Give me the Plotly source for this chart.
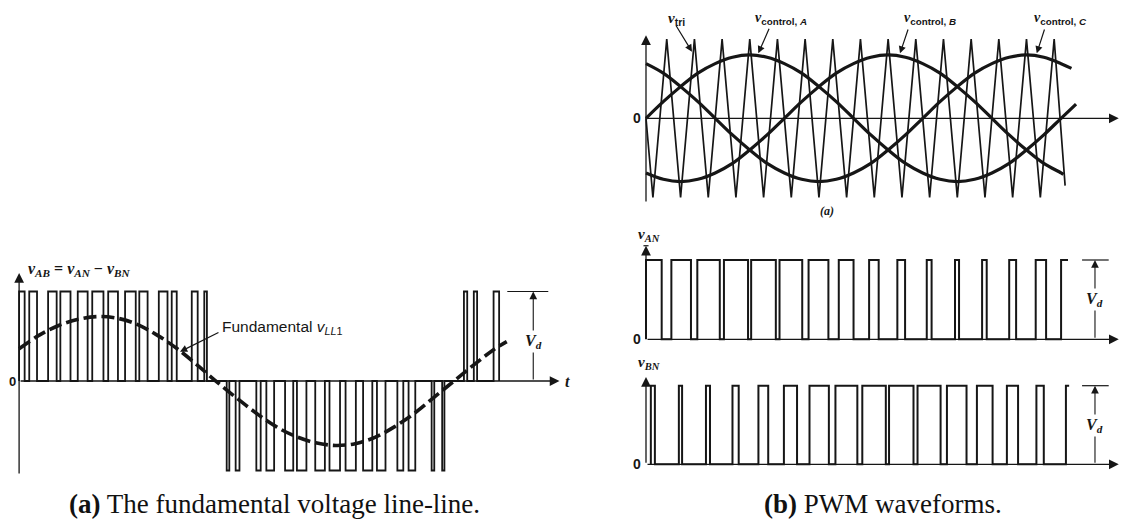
import plotly.graph_objects as go

W, H = 1131, 521          # target picture size
OFF = 8                   # page body margin of the written html
Wf, Hf = W - OFF, H - OFF  # figure size so that figure fills the window
INK = "#161616"

# ---------------- data (time in degrees of the fundamental, values per-unit) ----------------
# triangular carrier (vertices)
tri_t = [0, 6, 18, 30, 42, 54, 66, 78, 90, 102, 114, 126, 138, 150, 162, 174, 186,
         198, 210, 222, 234, 246, 258, 270, 282, 294, 306, 318, 330, 342, 354, 363.5]
tri_v = [0, -1, 1, -1, 1, -1, 1, -1, 1, -1, 1, -1, 1, -1, 1, -1, 1,
         -1, 1, -1, 1, -1, 1, -1, 1, -1, 1, -1, 1, -1, 1, -0.85]

# control voltages, read every 15 degrees
ctrl_t = [0, 15, 30, 45, 60, 75, 90, 105, 120, 135, 150, 165, 180, 195, 210, 225,
          240, 255, 270, 285, 300, 315, 330, 345, 360]
ctrl_a = [0.0, 0.21, 0.40, 0.57, 0.69, 0.77, 0.80, 0.77, 0.69, 0.57, 0.40, 0.21, 0.0,
          -0.21, -0.40, -0.57, -0.69, -0.77, -0.80, -0.77, -0.69, -0.57, -0.40, -0.21, 0.0]
ctrl_b = [-0.69, -0.77, -0.80, -0.77, -0.69, -0.57, -0.40, -0.21, 0.0, 0.21, 0.40, 0.57,
          0.69, 0.77, 0.80, 0.77, 0.69, 0.57, 0.40, 0.21, 0.0, -0.21, -0.40, -0.57, -0.69]
ctrl_c = [0.69, 0.57, 0.40, 0.21, 0.0, -0.21, -0.40, -0.57, -0.69, -0.77, -0.80, -0.77,
          -0.69, -0.57, -0.40, -0.21, 0.0, 0.21, 0.40, 0.57, 0.69, 0.77, 0.80, 0.77, 0.69]
ctrl_end_t = {"A": 373, "B": 362, "C": 369}
ctrl_end_v = {"A": 0.18, "B": -0.71, "C": 0.63}

# phase-leg voltages: pulse rise / fall instants
an_rise = [0, 22, 44.5, 67.6, 91.2, 115.8, 141, 167.2, 193.5, 218, 243.5, 268, 291.5, 315, 338, 360]
an_fall = [13.6, 39, 64, 88.5, 112.6, 135.5, 158.2, 180, 201.8, 224.7, 247.7, 271.5, 295.5, 321, 347, 366]
bn_rise = [4.2, 28.5, 52, 75, 97.5, 119.6, 141.8, 164.3, 187.6, 210.8, 235.5, 261, 287, 313, 338.6, 364.2]
bn_fall = [7.7, 31.3, 55.5, 80.4, 106, 131, 158.6, 183.3, 208, 232, 255.5, 278, 300.6, 322.7, 345, 367]

# line-line voltage v_AB pulses
ab_start = [0, 7.7, 22, 31.3, 44.5, 55.5, 67.6, 80.4, 91.2, 106, 115.8, 131, 140.5,
            157.5, 164.3, 180, 187.6, 201.8, 210.8, 224.7, 235.5, 247.7, 261, 271.5, 287, 295.5, 313, 321,
            337.5, 345, 360]
ab_end = [4.2, 13.6, 28.5, 39, 52, 64, 75, 88.5, 97.5, 112.6, 119.6, 135.5, 142.5,
          159.5, 167.2, 183.3, 193.5, 208, 218, 232, 243.5, 255.5, 268, 278, 291.5, 300.6, 315, 322.7,
          340, 347.5, 364.2]
ab_level = [1] * 13 + [-1] * 15 + [1] * 3

# fundamental of v_AB (dashed)
fund_t = [0, 15, 30, 45, 60, 75, 90, 105, 120, 135, 150, 165, 180, 195, 210, 225, 240,
          255, 270, 285, 300, 315, 330, 345, 360, 370]
fund_v = [0.36, 0.51, 0.62, 0.69, 0.72, 0.70, 0.63, 0.51, 0.36, 0.18, -0.01, -0.19, -0.36,
          -0.51, -0.62, -0.69, -0.72, -0.70, -0.63, -0.51, -0.36, -0.18, 0.0, 0.18, 0.35, 0.44]

# ---------------- panel geometry (window pixels: px = a + b*t, py = c - d*v) ----------------
panels = {
    "L":  dict(ax="x",  ay="y",  a=19.1, b=1.318, c=381.0, d=89.5, px=(OFF, 600),  py=(250, 490)),
    "TR": dict(ax="x2", ay="y2", a=646.0, b=1.153, c=118.3, d=79.2, px=(600, W), py=(OFF, 232)),
    "AN": dict(ax="x3", ay="y3", a=646.0, b=1.153, c=339.3, d=79.3, px=(600, W), py=(228, 350)),
    "BN": dict(ax="x4", ay="y4", a=646.0, b=1.153, c=464.3, d=78.6, px=(600, W), py=(352, 480)),
}

fig = go.Figure()


def pulse_xy(starts, ends, levels, open_end=False):
    xs, ys = [], []
    for s, e, l in zip(starts, ends, levels):
        xs += [s, s, e, e]
        ys += [0, l, l, 0]
    if open_end:
        xs, ys = xs[:-1], ys[:-1]
    return xs, ys


def add_line(p, x, y, width, dash=None, shape="linear"):
    fig.add_trace(go.Scatter(x=x, y=y, mode="lines", xaxis=panels[p]["ax"], yaxis=panels[p]["ay"],
                             line=dict(color=INK, width=width, dash=dash, shape=shape),
                             hoverinfo="skip", showlegend=False))


# left panel: v_AB and fundamental
x, y = pulse_xy(ab_start, ab_end, ab_level)
add_line("L", x, y, 1.8)
add_line("L", fund_t, fund_v, 3.6, dash="13px,5px", shape="spline")

# top right: carrier and controls
add_line("TR", tri_t, tri_v, 1.7)
add_line("TR", ctrl_t + [ctrl_end_t["A"]], ctrl_a + [ctrl_end_v["A"]], 3.2, shape="spline")
add_line("TR", ctrl_t + [ctrl_end_t["B"]], ctrl_b + [ctrl_end_v["B"]], 3.2, shape="spline")
add_line("TR", ctrl_t + [ctrl_end_t["C"]], ctrl_c + [ctrl_end_v["C"]], 3.2, shape="spline")

# v_AN and v_BN
x, y = pulse_xy(an_rise, an_fall, [1] * len(an_rise), open_end=True)
add_line("AN", x, y, 2.0)
x, y = pulse_xy(bn_rise, bn_fall, [1] * len(bn_rise), open_end=True)
add_line("BN", x, y, 2.0)

layout = dict(width=Wf, height=Hf, margin=dict(l=0, r=0, t=0, b=0, pad=0),
              paper_bgcolor="white", plot_bgcolor="rgba(0,0,0,0)", showlegend=False)
for k, p in panels.items():
    xn = "xaxis" + p["ax"][1:]
    yn = "yaxis" + p["ay"][1:]
    x0, x1 = p["px"]
    top, bot = p["py"]
    layout[xn] = dict(domain=[(x0 - OFF) / Wf, (x1 - OFF) / Wf],
                      range=[(x0 - p["a"]) / p["b"], (x1 - p["a"]) / p["b"]],
                      visible=False, fixedrange=True)
    layout[yn] = dict(domain=[1 - (bot - OFF) / Hf, 1 - (top - OFF) / Hf],
                      range=[(p["c"] - bot) / p["d"], (p["c"] - top) / p["d"]],
                      visible=False, fixedrange=True)
fig.update_layout(**layout)

anns = []
shapes = []


def arrow(p, tail, head, w=1.3, size=1.5):
    r = panels[p]
    anns.append(dict(x=head[0], y=head[1], ax=tail[0], ay=tail[1], xref=r["ax"], yref=r["ay"],
                     axref=r["ax"], ayref=r["ay"], text="", showarrow=True, arrowhead=2,
                     arrowsize=size, arrowwidth=w, arrowcolor=INK))


def text(p, x, y, s, size=13, family="Liberation Serif", xanchor="center", bg=None, yanchor="middle"):
    r = panels[p]
    d = dict(x=x, y=y, xref=r["ax"], yref=r["ay"], text=s, showarrow=False, xanchor=xanchor,
             yanchor=yanchor, font=dict(family=family, size=size, color=INK))
    if bg:
        d["bgcolor"] = bg
        d["borderpad"] = 1
    anns.append(d)


def seg(p, x0, y0, x1, y1, w=1.3):
    r = panels[p]
    shapes.append(dict(type="line", x0=x0, y0=y0, x1=x1, y1=y1, xref=r["ax"], yref=r["ay"],
                       line=dict(color=INK, width=w)))


def vd(p, t_lo, t_hi, t_mid, v_text):
    seg(p, t_lo, 1, t_hi, 1, 1.2)
    arrow(p, (t_mid, 0), (t_mid, 1), 1.1, 1.4)
    text(p, t_mid, v_text, "<b><i>V</i><sub><i>d</i></sub></b>", size=16, bg="white")


SANS = "Liberation Sans"

# ---- left panel decorations ----
arrow("L", (0, -1.05), (0, 1.207))
arrow("L", (0, 0), (410, 0))
text("L", -1.2, 0, "<b>0</b>", 13, SANS, "right")
text("L", 413, 0, "<b><i>t</i></b>", 16, xanchor="left")
text("L", 5.0, 1.245, "<b><i>v</i><sub><i>AB</i></sub> = <i>v</i><sub><i>AN</i></sub> − <i>v</i><sub><i>BN</i></sub></b>",
     16, xanchor="left")
text("L", 152.6, 0.598, "Fundamental <i>v</i><sub><i>LL</i>1</sub>", 15.5, SANS, "left")
arrow("L", (152.4, 0.551), (122.1, 0.327), 1.2, 1.2)
vd("L", 370.4, 401.5, 390.1, 0.44)

# ---- top right decorations ----
arrow("TR", (0, -1.07), (0, 1.05))
arrow("TR", (0, 0), (410, 0))
text("TR", -2.6, 0, "<b>0</b>", 14, SANS, "right")
text("TR", 412.5, 0, "<b><i>t</i></b>", 15, xanchor="left")
sub = "<span style='font-family:Liberation Sans'>%s</span>"
# labels placed with their top edge at the top of the figure
top_v = (panels["TR"]["c"] - OFF) / panels["TR"]["d"]
text("TR", 26.5, top_v, "<b><i>v</i><sub>" + (sub % "tri") + "</sub></b>", 15, yanchor="top")
arrow("TR", (25.2, 1.19), (39.9, 0.84), 1.2, 1.2)
text("TR", 117.1, top_v, "<b><i>v</i><sub>" + (sub % "control, <i>A</i>") + "</sub></b>", 14, yanchor="top")
arrow("TR", (107.3, 1.15), (97.4, 0.82), 1.2, 1.2)
text("TR", 246.7, top_v, "<b><i>v</i><sub>" + (sub % "control, <i>B</i>") + "</sub></b>", 14, yanchor="top")
arrow("TR", (227.7, 1.14), (220.3, 0.82), 1.2, 1.2)
text("TR", 359.5, top_v, "<b><i>v</i><sub>" + (sub % "control, <i>C</i>") + "</sub></b>", 14, yanchor="top")
arrow("TR", (346.0, 1.14), (338.9, 0.82), 1.2, 1.2)
text("TR", 156.8, -1.17, "<b><i>(a)</i></b>", 12)

# ---- v_AN, v_BN decorations ----
for p, tip, lab, lv in (("AN", 1.18, "AN", 1.315), ("BN", 1.11, "BN", 1.29)):
    arrow(p, (0, 0), (0, tip))
    arrow(p, (0, 0), (410, 0))
    text(p, -2.6, 0, "<b>0</b>", 14, SANS, "right")
    text(p, 412.5, 0, "<b><i>t</i></b>", 15, xanchor="left")
    text(p, -9.0, lv, "<b><i>v</i><sub><i>%s</i></sub></b>" % lab, 15, xanchor="left")
    vd(p, 378.2, 401.3, 389.4, 0.5)
seg("AN", -2.2, 1.18, 2.2, 1.18, 1.2)

# ---- captions ----
def px(x):
    return (x - OFF) / Wf


def py(y):
    return 1 - (y - OFF) / Hf


anns.append(dict(x=px(274), y=py(504), xref="paper", yref="paper", xanchor="center", yanchor="middle",
                 showarrow=False, text="<b>(a)</b> The fundamental voltage line-line.",
                 font=dict(family="Liberation Serif", size=27, color="#111")))
anns.append(dict(x=px(883), y=py(504), xref="paper", yref="paper", xanchor="center", yanchor="middle",
                 showarrow=False, text="<b>(b)</b> PWM waveforms.",
                 font=dict(family="Liberation Serif", size=27, color="#111")))

fig.update_layout(annotations=anns, shapes=shapes)
fig.write_html("out.html")
